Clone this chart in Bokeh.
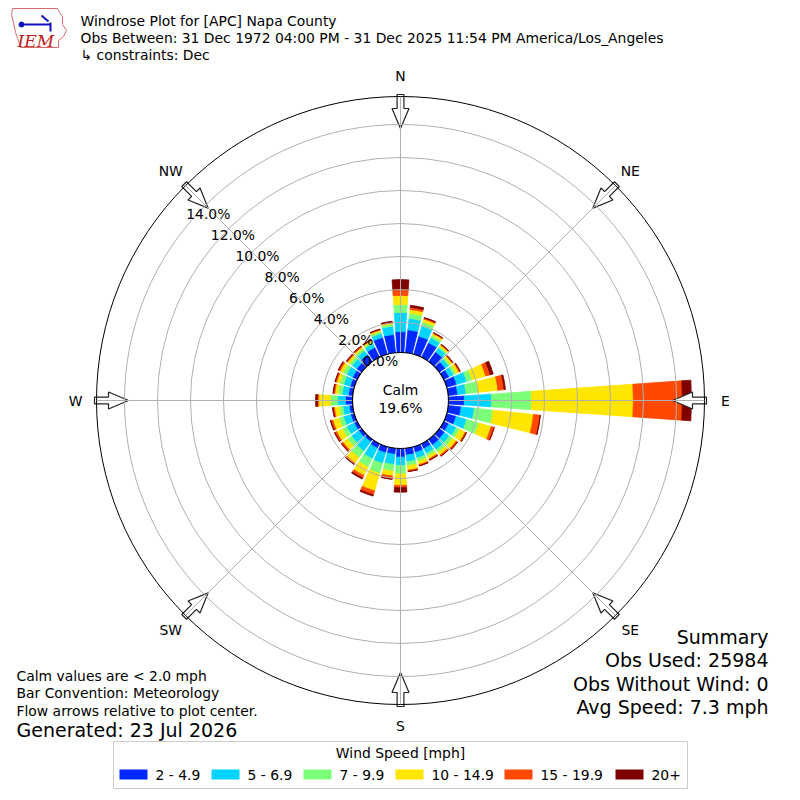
import numpy as np
from bokeh.plotting import figure
from bokeh.models import Range1d, ColumnDataSource, Label
from bokeh.embed import file_html
from bokeh.resources import INLINE

# direction bins (degrees, meteorological: from N, clockwise)
directions = list(range(0, 360, 10))

# percent of observations per direction bin and speed bin
spd_2_5 = [1.45, 1.58, 1.33, 1.17, 0.91, 0.62, 0.55, 0.82, 0.76, 1.15, 0.97, 0.79,
           0.53, 0.57, 0.60, 0.52, 0.55, 0.60, 0.71, 0.55, 0.57, 0.49, 0.36, 0.40,
           0.40, 0.42, 0.40, 0.61, 0.45, 0.45, 0.50, 0.55, 0.70, 0.85, 1.25, 1.30]
spd_5_7 = [1.16, 0.70, 0.64, 0.33, 0.29, 0.25, 0.30, 0.63, 0.51, 1.64, 0.81, 0.66,
           0.50, 0.36, 0.35, 0.33, 0.35, 0.40, 0.50, 0.62, 0.67, 0.71, 0.71, 0.55,
           0.50, 0.45, 0.38, 0.48, 0.38, 0.40, 0.40, 0.35, 0.30, 0.25, 0.25, 0.50]
spd_7_10 = [0.48, 0.31, 0.25, 0.17, 0.12, 0.13, 0.17, 0.34, 0.72, 2.42, 1.13, 0.77,
            0.23, 0.25, 0.20, 0.18, 0.20, 0.25, 0.51, 0.41, 0.63, 0.56, 0.48, 0.30,
            0.30, 0.28, 0.22, 0.43, 0.25, 0.25, 0.25, 0.18, 0.15, 0.12, 0.14, 0.14]
spd_10_15 = [0.55, 0.23, 0.18, 0.12, 0.10, 0.14, 0.20, 0.86, 1.22, 6.18, 2.47, 0.77,
             0.38, 0.26, 0.20, 0.18, 0.22, 0.27, 0.70, 0.30, 1.10, 0.57, 0.41, 0.33,
             0.38, 0.40, 0.30, 0.72, 0.20, 0.20, 0.20, 0.15, 0.12, 0.08, 0.08, 0.06]
spd_15_20 = [0.36, 0.13, 0.07, 0.04, 0.04, 0.05, 0.06, 0.28, 0.38, 2.97, 0.40, 0.19,
             0.08, 0.10, 0.09, 0.08, 0.07, 0.07, 0.14, 0.18, 0.25, 0.17, 0.10, 0.10,
             0.11, 0.11, 0.08, 0.08, 0.08, 0.08, 0.10, 0.07, 0.06, 0.04, 0.04, 0.05]
spd_20_up = [0.60, 0.12, 0.03, 0.02, 0.02, 0.01, 0.02, 0.19, 0.08, 0.55, 0.02, 0.00,
             0.00, 0.01, 0.01, 0.01, 0.01, 0.01, 0.27, 0.02, 0.08, 0.07, 0.01, 0.03,
             0.04, 0.04, 0.04, 0.10, 0.03, 0.03, 0.03, 0.03, 0.02, 0.02, 0.02, 0.05]

speed_series = [spd_2_5, spd_5_7, spd_7_10, spd_10_15, spd_15_20, spd_20_up]
speed_labels = ["2 - 4.9", "5 - 6.9", "7 - 9.9", "10 - 14.9", "15 - 19.9", "20+"]
speed_colors = ["#0028ff", "#00d4ff", "#7cff79", "#ffe600", "#ff4800", "#800000"]

ring_ticks = [0, 2, 4, 6, 8, 10, 12, 14]
compass_labels = ["N", "NE", "E", "SE", "S", "SW", "W", "NW"]
calm_pct = 19.6

title_lines = [
    "Windrose Plot for [APC] Napa County",
    "Obs Between: 31 Dec 1972 04:00 PM - 31 Dec 2025 11:54 PM America/Los_Angeles",
    "\u21b3 constraints: Dec",
]
notes = ["Calm values are < 2.0 mph", "Bar Convention: Meteorology",
         "Flow arrows relative to plot center."]
generated = "Generated: 23 Jul 2026"
summary = ["Summary", "Obs Used: 25984", "Obs Without Wind: 0", "Avg Speed: 7.3 mph"]

# polar scale: radius in px for a percentage
HOLE = 45.0      # radius of the 0 % ring
PX_PER_PCT = 16.5
CALM_R = 48.0
OUTER_R = 304.0
BAR_WIDTH = 8.0  # degrees


def radius(pct):
    return HOLE + PX_PER_PCT * np.asarray(pct, dtype=float)


def X(px):
    return px - 400


def Y(py):
    return 400 - py


p = figure(width=792, height=792, x_range=Range1d(-400, 392), y_range=Range1d(-392, 400),
           x_axis_type=None, y_axis_type=None, output_backend="svg",
           toolbar_location=None, min_border=0)
p.outline_line_color = None
p.background_fill_color = "white"

# stacked wind rose bars
cum = np.zeros(len(directions))
theta = np.radians(90 - np.array(directions, dtype=float))
half = np.radians(BAR_WIDTH / 2)
for vals, lab, col in zip(speed_series, speed_labels, speed_colors):
    vals = np.array(vals)
    src = ColumnDataSource(dict(r0=radius(cum), r1=radius(cum + vals),
                                a0=theta - half, a1=theta + half))
    p.annular_wedge(x=0, y=0, inner_radius="r0", outer_radius="r1",
                    start_angle="a0", end_angle="a1", source=src,
                    fill_color=col, line_color=col, line_width=0.8)
    cum = cum + vals

# flow arrows at compass points
arrow_u = [306, 292, 292, 272, 292, 292, 306]
arrow_v = [-3.4, -3.4, -8.5, 0, 8.5, 3.4, 3.4]
xs, ys = [], []
for k in range(8):
    a = np.radians(90 - 45 * k)
    xs.append([u * np.cos(a) - v * np.sin(a) for u, v in zip(arrow_u, arrow_v)])
    ys.append([u * np.sin(a) + v * np.cos(a) for u, v in zip(arrow_u, arrow_v)])
p.patches(xs, ys, fill_color="white", line_color="#222222", line_width=1.2)

# rings and rays
p.circle(x=0, y=0, radius=list(radius(ring_ticks)), fill_color=None,
         line_color="#b0b0b0", line_width=1)
ang = np.radians(90 - 45 * np.arange(8))
p.segment(x0=0, y0=0, x1=list(OUTER_R * np.cos(ang)), y1=list(OUTER_R * np.sin(ang)),
          line_color="#b0b0b0", line_width=1)
p.circle(x=0, y=0, radius=OUTER_R, fill_color=None, line_color="black", line_width=1)

# calm circle
p.circle(x=0, y=0, radius=CALM_R, fill_color="white", line_color="black", line_width=1.2)


def add_text(x, y, s, size="13.9px", align="left", baseline="middle", color="black",
             font="DejaVu Sans", style="normal"):
    p.add_layout(Label(x=x, y=y, text=s, text_font=font, text_font_size=size,
                       text_align=align, text_baseline=baseline, text_color=color,
                       text_font_style=style))


add_text(0, Y(389), "Calm", align="center")
add_text(0, Y(407), f"{calm_pct}%", align="center")

for t in ring_ticks:
    add_text(X(380 - 12.3 * t), Y(360 - 10.5 * t), f"{t:.1f}%", align="center")

for k, lab in enumerate(compass_labels):
    a = np.radians(90 - 45 * k)
    add_text(325 * np.cos(a), 325 * np.sin(a), lab, align="center")

for i, s in enumerate(title_lines):
    add_text(X(80), Y(20 + 17 * i), s)

for i, s in enumerate(notes):
    add_text(X(16), Y(675 + 17.5 * i), s)
add_text(X(16), Y(729), generated, size="19px")

for i, s in enumerate(summary):
    add_text(X(768), Y(636 + 23.5 * i), s, size="19px", align="right")

# legend
p.quad(left=X(113), right=X(687), top=Y(741), bottom=Y(788), fill_color="white",
       line_color="#cccccc", line_width=1)
add_text(0, Y(752), "Wind Speed [mph]", align="center")
patch_left = [119, 211, 303, 395, 504, 615]
p.quad(left=[X(v) for v in patch_left], right=[X(v + 28) for v in patch_left],
       top=Y(769), bottom=Y(779), fill_color=speed_colors, line_color=None)
for v, lab in zip(patch_left, speed_labels):
    add_text(X(v + 36), Y(774), lab)

# logo stand-in
iowa_x = [12, 57, 59, 62, 62, 66, 63, 58, 58, 20, 18, 15, 13, 11]
iowa_y = [8, 8, 12, 16, 24, 30, 36, 40, 47, 47, 40, 32, 22, 14]
p.patch([X(v) for v in iowa_x], [Y(v) for v in iowa_y], fill_color="white",
        line_color="#d86a6a", line_width=1)
p.segment(x0=[X(22), X(41), X(50)], y0=[Y(24), Y(15), Y(22)],
          x1=[X(50), X(48), X(50)], y1=[Y(24), Y(21), Y(31)],
          line_color="#1010c0", line_width=2)
p.scatter(x=[X(21)], y=[Y(24)], size=5, color="#1010c0")
add_text(X(17), Y(40), "IEM", size="17px", color="#c02020", font="DejaVu Serif",
         style="italic")

open("out.html", "w").write(file_html(p, INLINE))
